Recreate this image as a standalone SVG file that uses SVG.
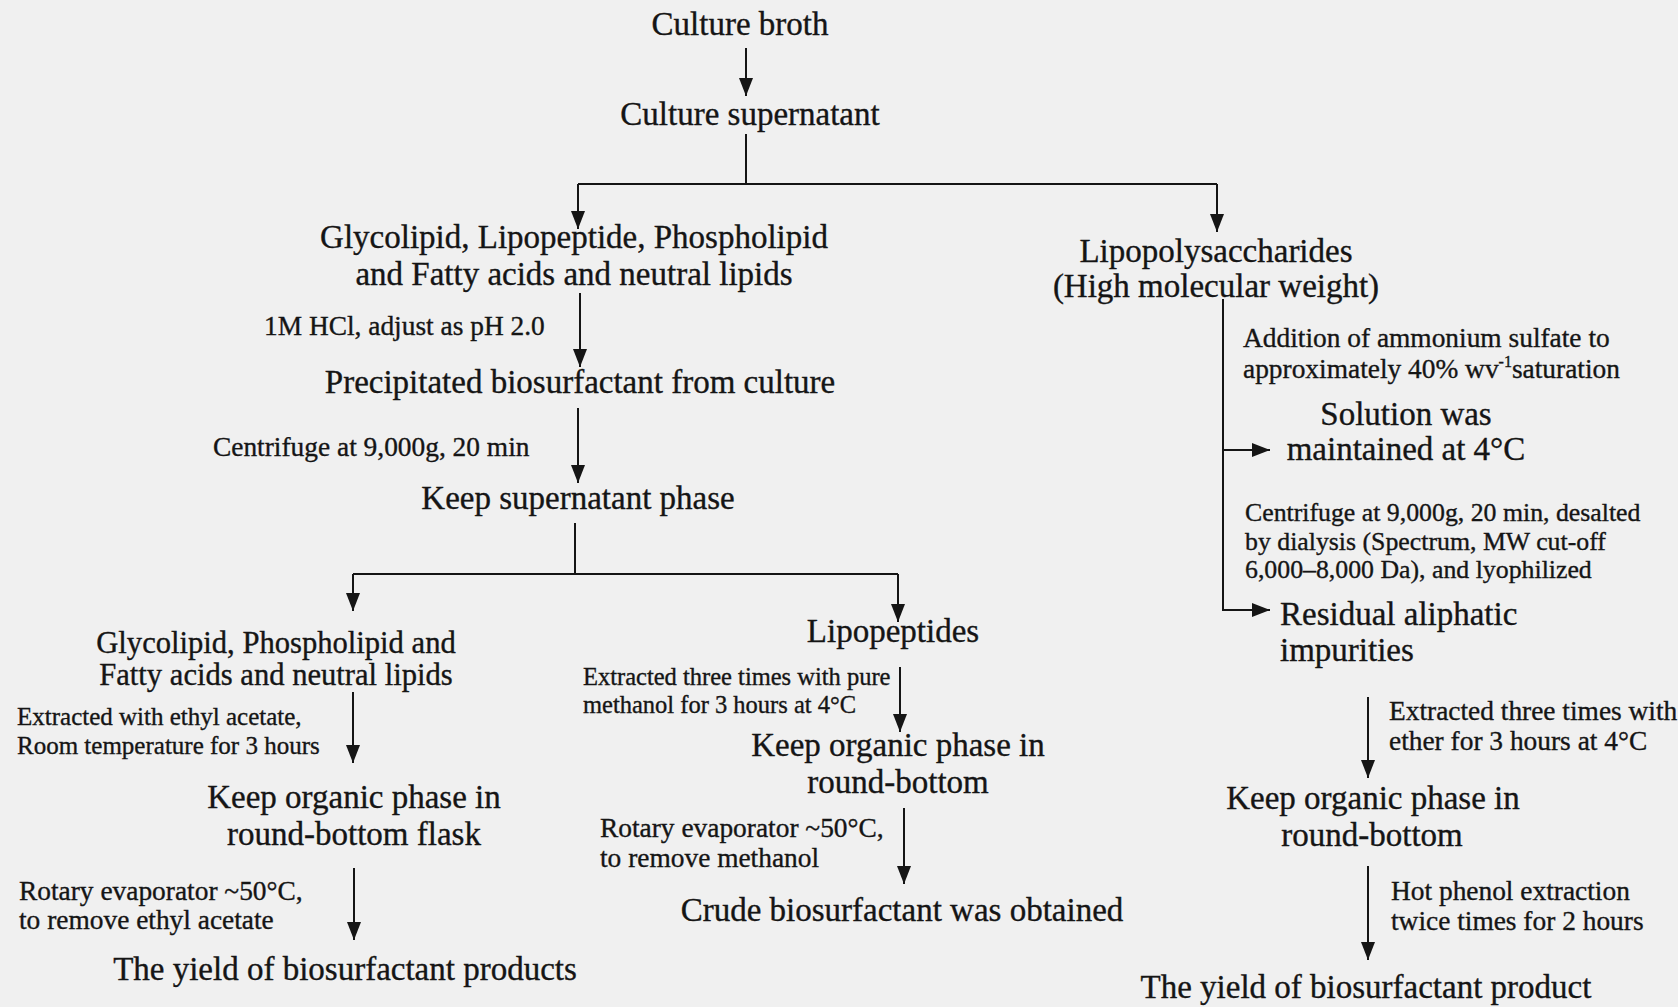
<svg xmlns="http://www.w3.org/2000/svg" width="1678" height="1007" viewBox="0 0 1678 1007">
<defs>
<marker id="ah" viewBox="0 0 18 14" refX="18" refY="7" markerWidth="18" markerHeight="14" markerUnits="userSpaceOnUse" orient="auto">
<path d="M0,0 L18,7 L0,14 z" fill="#151515"/>
</marker>
<style>
text{font-family:"Liberation Serif","Times New Roman",serif;fill:#151515;stroke:#151515;stroke-width:0.35px}
.n{font-size:33px;text-anchor:middle}
.g{font-size:30.6px;text-anchor:middle}
.l{font-size:27.4px}
.s{font-size:25px}
.d{font-size:25.8px}
.c line,.c path{stroke:#151515;stroke-width:2;fill:none}
.a{marker-end:url(#ah)}
</style>
</defs>
<rect width="1678" height="1007" fill="#f0f0f0"/>
<g class="c" id="connectors">
<line class="a" x1="746" y1="48" x2="746" y2="96"/>
<line x1="746" y1="134" x2="746" y2="184"/>
<path class="a" d="M578,184 L578,229"/>
<line x1="578" y1="184" x2="1217" y2="184"/>
<path class="a" d="M1217,184 L1217,232"/>
<line class="a" x1="580" y1="293" x2="580" y2="367"/>
<line class="a" x1="578" y1="408" x2="578" y2="483"/>
<line x1="575" y1="523" x2="575" y2="574"/>
<line x1="353" y1="574" x2="898" y2="574"/>
<path class="a" d="M353,574 L353,611"/>
<path class="a" d="M898,574 L898,622"/>
<line class="a" x1="353" y1="692" x2="353" y2="763"/>
<line class="a" x1="354" y1="868" x2="354" y2="940"/>
<line class="a" x1="900" y1="667" x2="900" y2="732"/>
<line class="a" x1="904" y1="808" x2="904" y2="884"/>
<line x1="1223" y1="299" x2="1223" y2="610"/>
<path class="a" d="M1223,450 L1270,450"/>
<path class="a" d="M1222,610 L1270,610"/>
<line class="a" x1="1368" y1="697" x2="1368" y2="778"/>
<line class="a" x1="1368" y1="866" x2="1368" y2="960"/>
</g>
<g id="culture-broth"><text class="n" x="740" y="35">Culture broth</text></g>
<g id="culture-supernatant"><text class="n" x="750" y="125">Culture supernatant</text></g>
<g id="glycolipid-all"><text class="n" x="574" y="248">Glycolipid, Lipopeptide, Phospholipid</text><text class="n" x="574" y="285">and Fatty acids and neutral lipids</text></g>
<g id="lipopolysaccharides"><text class="n" x="1216" y="262">Lipopolysaccharides</text><text class="n" x="1216" y="297">(High molecular weight)</text></g>
<g id="precipitated"><text class="n" x="580" y="393">Precipitated biosurfactant from culture</text></g>
<g id="keep-supernatant"><text class="n" x="578" y="509">Keep supernatant phase</text></g>
<g id="glycolipid-phospholipid"><text class="g" x="276" y="653">Glycolipid, Phospholipid and</text><text class="g" x="276" y="685">Fatty acids and neutral lipids</text></g>
<g id="lipopeptides"><text class="n" x="893" y="642">Lipopeptides</text></g>
<g id="keep-organic-left"><text class="n" x="354" y="808">Keep organic phase in</text><text class="n" x="354" y="845">round-bottom flask</text></g>
<g id="yield-left"><text class="n" x="345" y="980">The yield of biosurfactant products</text></g>
<g id="keep-organic-mid"><text class="n" x="898" y="756">Keep organic phase in</text><text class="n" x="898" y="793">round-bottom</text></g>
<g id="crude"><text class="n" x="902" y="921">Crude biosurfactant was obtained</text></g>
<g id="solution"><text class="n" x="1406" y="425">Solution was</text><text class="n" x="1406" y="460">maintained at 4°C</text></g>
<g id="residual"><text class="n" x="1280" y="625" style="text-anchor:start">Residual aliphatic</text><text class="n" x="1280" y="661" style="text-anchor:start">impurities</text></g>
<g id="keep-organic-right"><text class="n" x="1373" y="809">Keep organic phase in</text><text class="n" x="1372" y="846">round-bottom</text></g>
<g id="yield-right"><text class="n" x="1366" y="998">The yield of biosurfactant product</text></g>
<g id="labels">
<text class="l" x="264" y="335">1M HCl, adjust as pH 2.0</text>
<text class="l" x="213" y="456">Centrifuge at 9,000g, 20 min</text>
<text class="l" x="1243" y="347">Addition of ammonium sulfate to</text>
<text class="l" x="1243" y="378">approximately 40% wv<tspan dy="-11" font-size="16">-1</tspan><tspan dy="11">saturation</tspan></text>
<text class="d" x="1245" y="521">Centrifuge at 9,000g, 20 min, desalted</text>
<text class="d" x="1245" y="550">by dialysis (Spectrum, MW cut-off</text>
<text class="d" x="1245" y="578">6,000–8,000 Da), and lyophilized</text>
<text class="s" x="17" y="725">Extracted with ethyl acetate,</text>
<text class="s" x="17" y="754">Room temperature for 3 hours</text>
<text class="s" x="583" y="685" style="font-size:24.5px">Extracted three times with pure</text>
<text class="s" x="583" y="713" style="font-size:24.5px">methanol for 3 hours at 4°C</text>
<text class="l" x="19" y="900">Rotary evaporator ~50°C,</text>
<text class="l" x="19" y="929">to remove ethyl acetate</text>
<text class="l" x="600" y="837">Rotary evaporator ~50°C,</text>
<text class="l" x="600" y="867">to remove methanol</text>
<text class="l" x="1389" y="720">Extracted three times with</text>
<text class="l" x="1389" y="750">ether for 3 hours at 4°C</text>
<text class="l" x="1391" y="900">Hot phenol extraction</text>
<text class="l" x="1391" y="930">twice times for 2 hours</text>
</g>
</svg>
